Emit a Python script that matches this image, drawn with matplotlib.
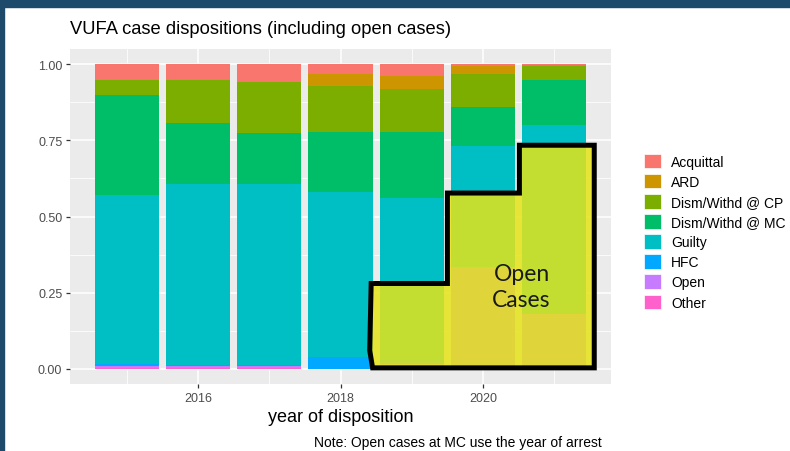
import numpy as np
import matplotlib.pyplot as plt
from matplotlib.patches import Patch, Polygon, Rectangle

# data: share of cases by disposition and year
years = [2015, 2016, 2017, 2018, 2019, 2020, 2021]
categories = ['Acquittal', 'ARD', 'Dism/Withd @ CP', 'Dism/Withd @ MC',
              'Guilty', 'HFC', 'Open', 'Other']
acquittal = [0.051, 0.051, 0.057, 0.033, 0.038, 0.006, 0.003]
ard = [0.000, 0.000, 0.000, 0.039, 0.042, 0.027, 0.004]
dism_cp = [0.050, 0.143, 0.168, 0.152, 0.142, 0.109, 0.045]
dism_mc = [0.328, 0.199, 0.168, 0.197, 0.217, 0.126, 0.148]
guilty = [0.555, 0.595, 0.595, 0.541, 0.531, 0.398, 0.620]
hfc = [0.008, 0.004, 0.004, 0.038, 0.015, 0.000, 0.000]
open_ = [0.004, 0.004, 0.004, 0.000, 0.015, 0.334, 0.180]
other = [0.004, 0.004, 0.004, 0.000, 0.000, 0.000, 0.000]

# hand drawn "open cases" outline (year, share)
box_x = [2018.43, 2019.50, 2019.50, 2020.51, 2020.51, 2021.56, 2021.56, 2018.45, 2018.41]
box_y = [0.280, 0.280, 0.577, 0.577, 0.734, 0.734, 0.003, 0.003, 0.060]

colors = ['#F8766D', '#CD9600', '#7CAE00', '#00BE67',
          '#00BFC4', '#00A9FF', '#C77CFF', '#FF61CC']
series = [acquittal, ard, dism_cp, dism_mc, guilty, hfc, open_, other]

plt.rcParams['font.family'] = ['Liberation Sans', 'DejaVu Sans']

fig = plt.figure(figsize=(7.9, 4.52), dpi=100)
fig.patch.set_facecolor('white')
# slide frame
fig.patches.append(Rectangle((0, 1 - 8 / 452), 1, 8 / 452, transform=fig.transFigure,
                             color='#1D4A6B', zorder=0))
fig.patches.append(Rectangle((0, 0), 4 / 790, 1, transform=fig.transFigure,
                             color='#1D4A6B', zorder=0))

ax = fig.add_axes([70 / 790, 1 - 385 / 452, 541 / 790, 335 / 452])
ax.set_facecolor('#EBEBEB')
ax.set_xlim(2014.205, 2021.795)
ax.set_ylim(-0.05, 1.05)
for s in ax.spines.values():
    s.set_visible(False)

ax.set_xticks([2016, 2018, 2020])
ax.set_xticks([2015, 2017, 2019, 2021], minor=True)
ax.set_yticks([0, 0.25, 0.5, 0.75, 1.0])
ax.set_yticklabels(['0.00', '0.25', '0.50', '0.75', '1.00'])
ax.set_yticks([0.125, 0.375, 0.625, 0.875], minor=True)
ax.grid(which='major', color='white', lw=1.1)
ax.grid(which='minor', color='white', lw=0.55)
ax.set_axisbelow(True)
ax.tick_params(which='major', length=3, width=0.9, color='#333333',
               labelcolor='#4D4D4D', labelsize=9, pad=2.5)
ax.tick_params(which='minor', length=0)

# stack from the bottom: last category sits at the bottom
bottom = np.zeros(len(years))
for vals, col in zip(series[::-1], colors[::-1]):
    ax.bar(years, vals, width=0.9, bottom=bottom, color=col, zorder=2)
    bottom += np.array(vals)

poly = Polygon(np.column_stack([box_x, box_y]), closed=True,
               facecolor=(228 / 255, 227 / 255, 25 / 255, 0.86),
               edgecolor='black', lw=3.6, joinstyle='miter', zorder=5)
ax.add_patch(poly)
ax.text(2020.54, 0.27, 'Open\nCases', ha='center', va='center', fontsize=16.5,
        family=['Lato', 'DejaVu Sans'], color='#1a1a1a', linespacing=1.3, zorder=6)

ax.set_xlabel('year of disposition', fontsize=13, color='black', labelpad=3)
fig.text(70 / 790, 1 - 30 / 452, 'VUFA case dispositions (including open cases)',
         fontsize=13.2, va='center', ha='left')
fig.text(602 / 790, 1 - 443 / 452, 'Note: Open cases at MC use the year of arrest',
         fontsize=10, va='center', ha='right')

handles = [Patch(facecolor=c, edgecolor='white', lw=0.5) for c in colors]
fig.legend(handles, categories, loc='upper left', bbox_to_anchor=(638 / 790, 1 - 149 / 452),
           frameon=False, fontsize=10, handlelength=1.25, handleheight=1.25,
           handletextpad=0.75, labelspacing=0.37, borderaxespad=0)

plt.savefig('out.png', dpi=100)
